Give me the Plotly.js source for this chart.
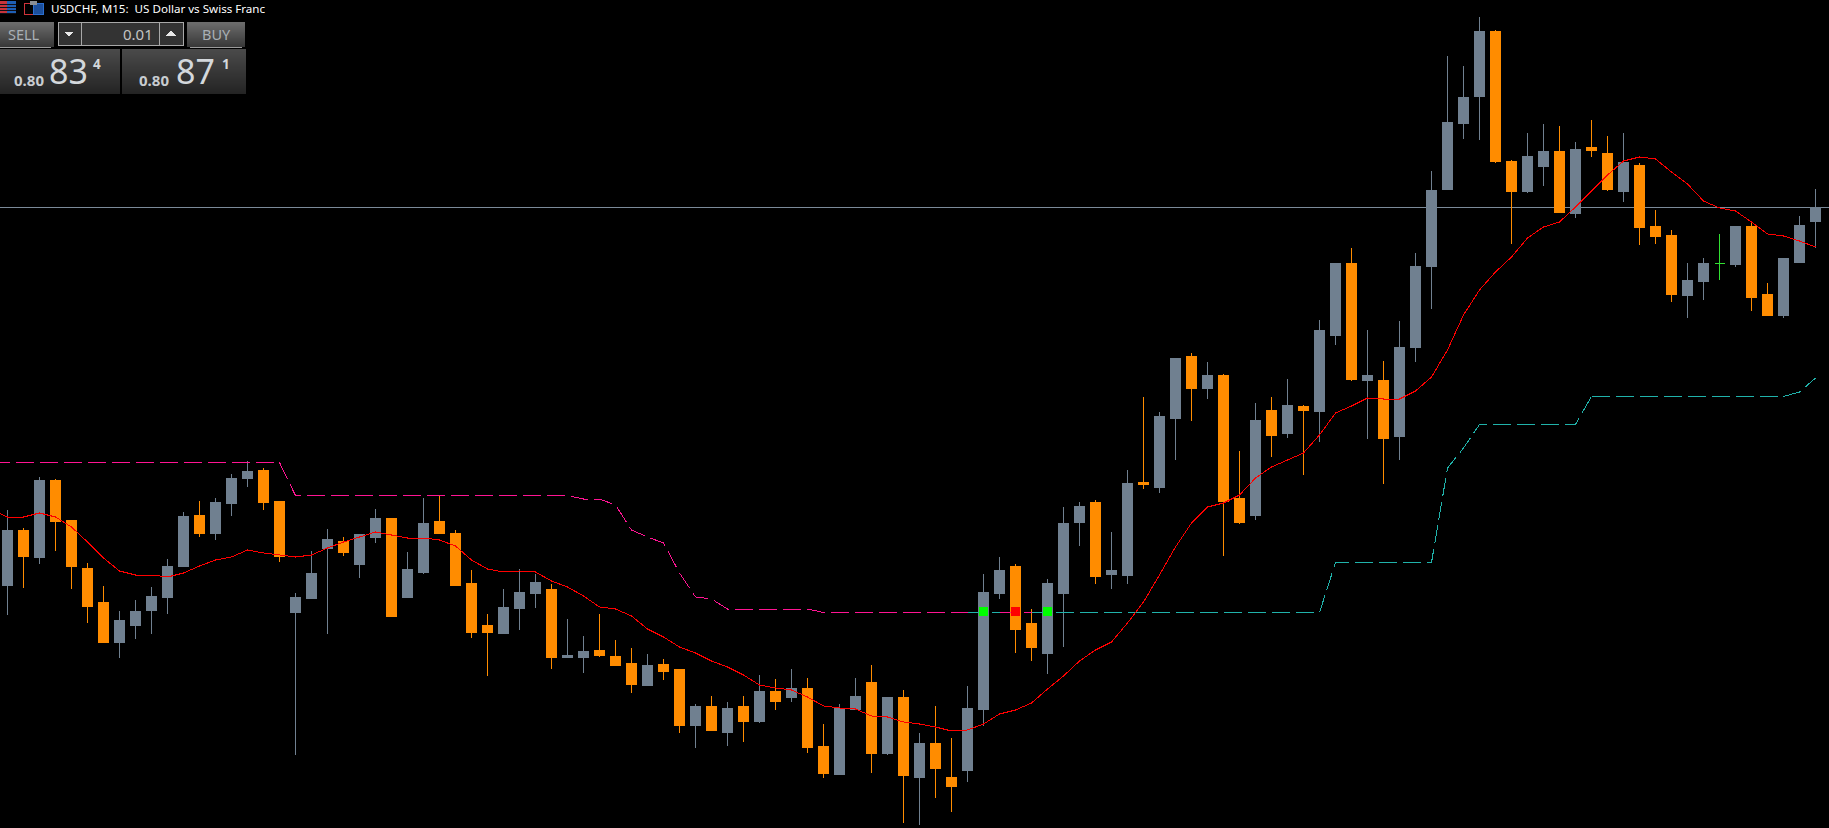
<!DOCTYPE html>
<html><head><meta charset="utf-8">
<script src="https://cdn.plot.ly/plotly-3.0.1.min.js"></script>
<style>
html,body{margin:0;padding:0;background:#000;overflow:hidden}
.boxlayer path,.scatterlayer path.js-line{shape-rendering:crispEdges}
.shapelayer path{shape-rendering:crispEdges}
</style></head><body><div id="chart" style="width:1829px;height:828px"></div>
<script>
const symbolTitle = "USDCHF, M15:  US Dollar vs Swiss Franc";
const bidPrice = 80833.5;
// g = rising (slate), o = falling (orange), d = doji (green), one letter per bar
const directions = ["gogoooogg"+"g","ggogggoogg","goggoggooo","ogggoggooo","googogogog","ooggogogoo","gggoogggog","goggogoogo","goggogoggg","gggooggogo","ogoooggdgo","oggg"];
const dirs = directions.join("");
const high = [80531,80513,80564,80562,80521,80478,80455,80430,80441,80454,80482,80529,80540,80543,80567,80580,80573,80540,80448,80490,80512,80504,80507,80532,80523,80489,80543,80546,80511,80471,80427,80452,80472,80467,80457,80422,80405,80427,80401,80393,80387,80382,80372,80337,80345,80339,80345,80366,80362,80372,80363,80317,80337,80363,80376,80344,80351,80308,80335,80303,80355,80467,80484,80477,80432,80462,80534,80539,80541,80509,80571,80644,80629,80683,80688,80679,80667,80590,80638,80644,80662,80636,80721,80778,80793,80711,80680,80720,80788,80870,80985,80975,81024,81011,80881,80908,80917,80915,80899,80921,80905,80908,80878,80831,80811,80778,80783,80807,80815,80819,80758,80783,80825,80852];
const bodyTop = [80511,80511,80561,80561,80521,80473,80439,80421,80430,80445,80475,80525,80526,80539,80563,80570,80571,80540,80444,80468,80502,80500,80507,80523,80523,80472,80518,80520,80508,80458,80416,80434,80449,80459,80452,80386,80390,80391,80385,80378,80376,80377,80372,80335,80335,80333,80335,80350,80350,80353,80353,80295,80333,80345,80359,80344,80344,80298,80298,80264,80333,80449,80471,80475,80418,80458,80518,80535,80539,80471,80558,80559,80625,80683,80685,80666,80666,80543,80621,80631,80636,80635,80711,80778,80778,80666,80661,80694,80775,80851,80919,80944,81010,81010,80880,80885,80890,80890,80892,80894,80888,80879,80876,80815,80806,80761,80778,80778,80815,80815,80747,80783,80816,80834];
const bodyBottom = [80456,80485,80484,80520,80475,80435,80399,80399,80416,80431,80444,80475,80508,80508,80538,80563,80539,80485,80429,80443,80493,80489,80477,80504,80425,80444,80469,80508,80456,80409,80409,80408,80433,80448,80384,80384,80384,80386,80376,80357,80356,80370,80316,80316,80311,80309,80320,80320,80340,80344,80294,80268,80267,80332,80288,80288,80266,80264,80273,80255,80271,80332,80448,80412,80394,80388,80448,80519,80465,80467,80466,80557,80554,80623,80653,80653,80540,80519,80526,80606,80608,80631,80630,80706,80662,80661,80603,80605,80694,80775,80852,80918,80945,80880,80850,80850,80875,80829,80828,80891,80852,80850,80814,80805,80747,80746,80760,80778,80777,80744,80726,80726,80779,80820];
const low = [80426,80453,80477,80490,80452,80418,80399,80383,80402,80407,80427,80474,80504,80501,80525,80554,80531,80479,80286,80443,80407,80485,80463,80498,80425,80444,80467,80507,80456,80403,80365,80408,80411,80433,80372,80384,80368,80384,80375,80348,80356,80361,80308,80293,80311,80295,80299,80318,80331,80339,80288,80263,80267,80332,80268,80286,80218,80216,80243,80229,80259,80315,80442,80388,80380,80367,80394,80495,80457,80452,80457,80552,80548,80581,80620,80642,80485,80517,80521,80584,80603,80566,80599,80696,80660,80602,80557,80581,80679,80732,80852,80902,80901,80878,80797,80848,80855,80829,80823,80884,80850,80839,80796,80797,80739,80723,80741,80761,80774,80730,80726,80723,80779,80793];
// moving average, starting one bar before the first candle
const movingAvg = [80531,80524,80524,80528,80524,80514,80499,80483,80470,80466,80466,80464,80468,80475,80481,80484,80491,80488,80486,80484,80486,80493,80499,80504,80509,80506,80503,80503,80501,80495,80481,80472,80469,80470,80469,80460,80454,80445,80434,80432,80425,80412,80404,80394,80388,80380,80374,80366,80356,80353,80351,80344,80335,80333,80332,80325,80324,80319,80317,80314,80310,80311,80317,80327,80331,80338,80352,80365,80380,80391,80399,80418,80439,80466,80494,80518,80534,80538,80546,80563,80574,80581,80588,80606,80628,80635,80643,80642,80642,80650,80664,80691,80726,80751,80769,80784,80803,80814,80819,80834,80850,80866,80880,80884,80882,80869,80857,80840,80833,80830,80819,80807,80805,80800,80794];
// stop line while falling: bars -1 to 60
const stopDown = [80578.5,80578.5,80578.5,80578.5,80578.5,80578.5,80578.5,80578.5,80578.5,80578.5,80578.5,80578.5,80578.5,80578.5,80578.5,80578.5,80578.5,80578.5,80578.5,
 80545.5,80545.5,80545.5,80545.5,80545.5,80545.5,80545.5,80545.5,80545.5,80545.5,80545.5,80545.5,80545.5,80545.5,80545.5,80545.5,80545.5,80545.5,
 80542,80542,80536,80511,80504,80498,80468,80444,80442,80432,80432,80432,80432,80432,80432,80428.5,80428.5,80428.5,80428.5,80428.5,80428.5,80428.5,80428.5,80428.5,80428.5];
const stopTurn = [80428.5,80428.5,80428.5];
// stop line while rising: bars 64 to 99, then 99 to 113
const stopUp = [80428.5,80428.5,80428.5,80428.5,80428.5,80428.5,80428.5,80428.5,80428.5,80428.5,80428.5,80428.5,80428.5,80428.5,80428.5,80428.5,80428.5,80428.5,80428.5,
 80478.5,80478.5,80478.5,80478.5,80478.5,80478.5,80478.5,80573,80593,80616.5,80616.5,80616.5,80616.5,80616.5,80616.5,80616.5,80644.5];
const stopUpLate = [80644.5,80644.5,80644.5,80644.5,80644.5,80644.5,80644.5,80644.5,80644.5,80644.5,80644.5,80644.5,80644.5,80649,80663];
const signalBars = [61,63,65];
const signalColors = ["#00ff00","#ff0000","#00ff00"];
const signalLevel = 80429.5;

const bars = high.map((_,i)=>i);
const P = v => v/100000;
const pick = (arr,keep)=>arr.filter((_,i)=>keep(i));
const isDoji = i => dirs[i]==="d";
const notDoji = i => !isDoji(i);
const openV = bars.map(i=> dirs[i]==="o" ? bodyTop[i] : bodyBottom[i]);
const closeV = bars.map(i=> dirs[i]==="o" ? bodyBottom[i] : bodyTop[i]);
const seq = (a,n)=>Array.from({length:n},(_,k)=>a+k);

const W=1829,H=828;
const shapes=[], annos=[];
const px=x=>x/W, py=y=>1-y/H;
function rect(x0,y0,x1,y1,fill,line){shapes.push({type:'rect',xref:'paper',yref:'paper',x0:px(x0),x1:px(x1),y0:py(y0),y1:py(y1),fillcolor:fill,line:line?{color:line,width:1}:{width:0}});}
function grad(x0,y0,x1,y1,c0,c1){const n=y1-y0;for(let k=0;k<n;k++){const t=k/(n-1||1);const v=Math.round(c0+(c1-c0)*t);rect(x0,y0+k,x1,y0+k+1,`rgb(${v},${v},${v})`);}}
function label(text,x,y,size,color,anchor,bold){annos.push({xref:'paper',yref:'paper',x:px(x),y:py(y),text:bold?`<b>${text}</b>`:text,showarrow:false,xanchor:anchor||'left',yanchor:'middle',font:{family:'"Noto Sans",sans-serif',size,color},borderpad:0,borderwidth:0});}
function tri(xc,yc,up){shapes.push({type:'path',xref:'paper',yref:'paper',path:`M${px(xc-5)},${py(yc+(up?2:-2))}L${px(xc+5)},${py(yc+(up?2:-2))}L${px(xc)},${py(yc+(up?-3:3))}Z`,fillcolor:'#e8e8e8',line:{width:0}});}

// bid line, behind the candles
shapes.push({type:'line',layer:'below',xref:'paper',yref:'y',x0:0,x1:1,y0:P(bidPrice),y1:P(bidPrice),line:{color:'#7b8a99',width:1}});

// header icons
rect(0,1,7,14,'#c8343a');rect(7,1,16,14,'#1e5fb4');for(let y=4;y<14;y+=3){rect(0,y,16,y+1,'#101018');}
rect(24,3,33,14,'#000','#d0333a');rect(33,3,43,14,'#1c4f9c','#2b6fd0');rect(30,1,37,5,'#8a8f96');

// one-click trading panel
grad(0,22,54,47,108,56);rect(0,47,51,48,'#9a9a9a');
grad(187,22,245,47,108,56);rect(190,47,242,48,'#9a9a9a');
rect(58,22,183,45,'#333333','#a8a8a8');rect(81,22,82,45,'#a8a8a8');rect(159,22,160,45,'#a8a8a8');
tri(69,33.5,false);tri(171,33.5,true);
grad(0,49,120,94,74,36);grad(122,49,246,94,74,36);
label('SELL',24,34,14.5,'#a9b0b6','center');
label('BUY',216,34,14.5,'#a9b0b6','center');
label('0.01',153,34,15,'#c4c4c4','right');
label('0.80',14,80,15,'#c8ccd0','left',true);label('83',49,71,34,'#d4d8dc','left');label('4',93,64,13.5,'#d4d8dc','left',true);
label('0.80',139,80,15,'#c8ccd0','left',true);label('87',176,71,34,'#d4d8dc','left');label('1',222,64,13.5,'#d4d8dc','left',true);
annos.push({xref:'paper',yref:'paper',x:px(49),y:py(8.5),text:symbolTitle.replace(/  /g,'&nbsp; '),showarrow:false,xanchor:'left',yanchor:'middle',font:{family:'"Noto Sans",sans-serif',size:11.6,color:'#ffffff'}});

const dash='18px,6px', pink='#ff1493', teal='#20b2aa';
const data=[
 {type:'candlestick',x:pick(bars,notDoji),open:pick(openV,notDoji).map(P),close:pick(closeV,notDoji).map(P),high:pick(high,notDoji).map(P),low:pick(low,notDoji).map(P),
  increasing:{line:{color:'#708090',width:1},fillcolor:'#708090'},decreasing:{line:{color:'#ff8c00',width:1},fillcolor:'#ff8c00'},whiskerwidth:0},
 {type:'candlestick',x:pick(bars,isDoji),open:pick(openV,isDoji).map(P),close:pick(closeV,isDoji).map(P),high:pick(high,isDoji).map(P),low:pick(low,isDoji).map(P),
  increasing:{line:{color:'#32e032',width:1},fillcolor:'#32e032'},decreasing:{line:{color:'#32e032',width:1},fillcolor:'#32e032'},whiskerwidth:0},
 {type:'scatter',mode:'lines',x:seq(-1,stopDown.length),y:stopDown.map(P),line:{color:pink,width:1,dash}},
 {type:'scatter',mode:'lines',x:seq(60,stopTurn.length),y:stopTurn.map(P),line:{color:teal,width:1,dash}},
 {type:'scatter',mode:'lines',x:seq(62,stopTurn.length),y:stopTurn.map(P),line:{color:pink,width:1,dash}},
 {type:'scatter',mode:'lines',x:seq(64,stopUp.length),y:stopUp.map(P),line:{color:teal,width:1,dash}},
 {type:'scatter',mode:'lines',x:seq(99,stopUpLate.length),y:stopUpLate.map(P),line:{color:teal,width:1,dash}},
 {type:'scatter',mode:'lines',x:seq(-1,movingAvg.length),y:movingAvg.map(P),line:{color:'#ff0000',width:1}},
 {type:'scatter',mode:'markers',x:signalBars,y:signalBars.map(()=>P(signalLevel)),marker:{symbol:'square',size:9,color:signalColors,line:{width:0}}}
];
const layout={width:W,height:H,margin:{l:0,r:0,t:0,b:0},paper_bgcolor:'#000',plot_bgcolor:'#000',showlegend:false,boxgap:0.375,boxgroupgap:0,
 xaxis:{visible:false,range:[-7.5/16,(W-7.5)/16],rangeslider:{visible:false},fixedrange:true},
 yaxis:{visible:false,range:[P(81041-H),P(81041)],fixedrange:true},shapes,annotations:annos};
Plotly.newPlot('chart',data,layout,{displayModeBar:false,staticPlot:true});
</script></body></html>
